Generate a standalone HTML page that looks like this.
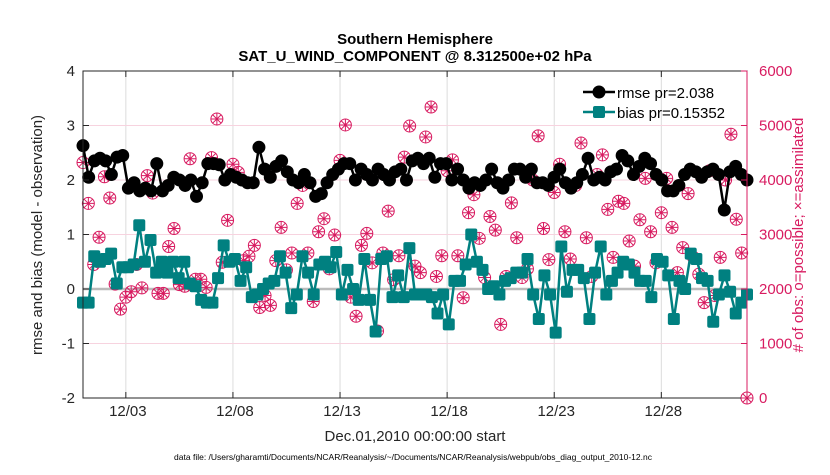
<!DOCTYPE html>
<html><head><meta charset="utf-8"><style>
body{margin:0;background:#fff;width:830px;height:470px;overflow:hidden;font-family:"Liberation Sans",sans-serif}
svg text{font-family:"Liberation Sans",sans-serif}
</style></head><body>
<svg id="chart" width="830" height="470" xmlns="http://www.w3.org/2000/svg">
<rect width="830" height="470" fill="#fff"/>
<g id="grid"></g><g id="series"></g><g id="axes"></g>
</svg>
<script>
const xTickLabels=["12/03","12/08","12/13","12/18","12/23","12/28"];
const xTickDays=[2,7,12,17,22,27];
const leftTicks=[-2,-1,0,1,2,3,4];
const rightTicks=[0,1000,2000,3000,4000,5000,6000];
const rmse=[2.63,2.05,2.35,2.4,2.35,2.1,2.42,2.45,1.85,1.95,1.8,1.85,1.8,2.3,1.8,1.9,2.05,2.0,1.9,2.0,1.7,1.95,2.3,2.3,2.28,2.0,2.1,2.05,2.0,1.95,1.95,2.6,2.2,2.05,2.25,2.35,2.15,2.0,1.95,2.1,1.95,1.7,1.75,1.95,2.1,2.2,2.3,2.3,2.0,2.2,2.1,2.0,2.2,2.1,2.0,2.15,2.2,2.0,2.35,2.4,2.3,2.4,2.05,2.3,2.3,2.0,2.2,2.0,1.85,1.95,1.9,2.0,2.2,1.95,1.85,2.0,2.2,2.2,2.05,2.2,1.95,1.95,1.9,2.05,2.2,1.95,1.85,1.95,2.1,2.4,2.0,2.05,2.0,2.15,2.2,2.45,2.35,2.1,2.25,2.4,2.3,2.1,2.0,1.8,1.8,1.9,2.1,2.2,2.15,2.05,2.15,2.2,2.1,1.45,2.15,2.25,2.1,2.0];
const bias=[-0.25,-0.25,0.6,0.5,0.55,0.65,0.1,0.4,0.4,0.45,1.17,0.5,0.9,0.3,0.5,0.3,0.5,0.2,0.5,0.1,0.05,-0.2,-0.25,-0.25,0.2,0.8,0.5,0.55,0.15,0.4,-0.15,-0.1,0.0,0.1,0.15,0.6,0.3,-0.35,-0.1,0.6,0.3,-0.1,0.45,0.5,0.4,0.68,-0.1,0.35,0.0,-0.2,0.55,-0.2,-0.78,0.55,0.6,-0.15,0.25,-0.15,0.75,-0.1,-0.1,-0.1,-0.15,-0.45,-0.1,-0.65,0.15,0.15,0.45,1.0,0.5,0.35,0.0,0.05,-0.1,0.15,0.2,0.3,0.3,0.55,-0.1,-0.55,0.25,-0.1,-0.8,0.78,-0.05,0.35,0.35,0.2,-0.55,0.3,0.78,-0.1,0.15,0.3,0.5,0.45,0.3,0.15,0.15,-0.15,0.55,0.5,0.25,-0.55,0.15,0.0,0.65,0.55,0.2,0.15,-0.6,-0.1,0.25,-0.05,-0.45,-0.25,-0.1];
const obsCount=[4320,3570,2450,2950,4060,3670,2090,1630,1850,1950,2450,2020,4080,3760,1920,1920,2780,3110,2080,2050,4390,2180,2180,2030,4410,5120,2490,3260,4290,4140,2520,2600,2800,1660,1880,1700,2520,3130,2350,2660,3570,3900,2660,1770,3050,3290,2370,2990,4360,5010,1850,1500,2800,3020,2480,1230,2660,3430,2170,2610,4420,4990,2420,2300,4790,5340,2230,2610,4170,4370,2610,1840,3400,3730,2930,2210,3330,3080,1350,2230,3580,2940,2210,2370,4000,4810,3110,2540,3770,4290,3050,2550,3900,4680,2940,2230,4100,4460,3460,2580,3610,3570,2880,2420,3270,4030,3050,2480,3400,4030,3130,2300,2760,3750,2580,2270,1750,4170,1880,2580,4000,4840,3280,2660,0];

const L=83,R=747,T=71,B=398;
const xs=d=>L+(d/31)*(R-L);
const yl=v=>B-(v+2)/6*(B-T);
const yr=c=>B-c/6000*(B-T);
const NS="http://www.w3.org/2000/svg";
function mk(tag,attrs,parent){const e=document.createElementNS(NS,tag);for(const k in attrs)e.setAttribute(k,attrs[k]);parent.appendChild(e);return e;}
const grid=document.getElementById('grid'),ser=document.getElementById('series'),ax=document.getElementById('axes');
const PINK="#d81b60";
xTickDays.forEach(d=>{const g=mk('line',{x1:xs(d),x2:xs(d),y1:T,y2:B,stroke:'#dcdcdc','stroke-width':1},grid);

});
rightTicks.slice(1,6).forEach(c=>{const g=mk('line',{x1:L,x2:R,y1:yr(c),y2:yr(c),stroke:'#f7d3df','stroke-width':1},grid);

});
const z=mk('line',{x1:L,x2:R,y1:yl(0),y2:yl(0),stroke:'#bbbbbb','stroke-width':2.5},grid);


obsCount.forEach((c,i)=>{const x=xs(i*31/(obsCount.length-1)),y=yr(c);
const g=mk('g',{},ser);


mk('circle',{cx:x,cy:y,r:6,fill:'none',stroke:PINK,'stroke-width':1},g);
let d='';for(let k=0;k<4;k++){const a=k*Math.PI/4;d+=`M${x-6*Math.cos(a)} ${y-6*Math.sin(a)}L${x+6*Math.cos(a)} ${y+6*Math.sin(a)}`;}
mk('path',{d:d,stroke:PINK,'stroke-width':1},g);});
const rp=rmse.map((v,i)=>[xs(i*31/(rmse.length-1)),yl(v)]);
const rl=mk('polyline',{points:rp.map(p=>p.join(',')).join(' '),fill:'none',stroke:'#000','stroke-width':2.5},ser);


rp.forEach(p=>{const c=mk('circle',{cx:p[0],cy:p[1],r:6.5,fill:'#000'},ser);

});
const bp=bias.map((v,i)=>[xs(i*31/(bias.length-1)),yl(v)]);
const bl=mk('polyline',{points:bp.map(p=>p.join(',')).join(' '),fill:'none',stroke:'#008080','stroke-width':2.5},ser);


bp.forEach(p=>{const c=mk('rect',{x:p[0]-6,y:p[1]-6,width:12,height:12,rx:2,fill:'#008080'},ser);

});
mk('rect',{x:L,y:T,width:R-L,height:B-T,fill:'none',stroke:'#262626','stroke-width':1},ax);
mk('line',{x1:R,x2:R,y1:T,y2:B,stroke:PINK,'stroke-width':1},ax);
leftTicks.forEach(v=>{mk('line',{x1:L,x2:L+6,y1:yl(v),y2:yl(v),stroke:'#262626'},ax);
const t=mk('text',{x:L-8,y:yl(v)+5,'text-anchor':'end','font-size':15,fill:'#262626'},ax);t.textContent=v;

});
rightTicks.forEach(c=>{mk('line',{x1:R-6,x2:R,y1:yr(c),y2:yr(c),stroke:PINK},ax);
const t=mk('text',{x:R+12,y:yr(c)+5,'font-size':15,fill:PINK},ax);t.textContent=c;

});
xTickDays.forEach((d,i)=>{mk('line',{x1:xs(d),x2:xs(d),y1:B,y2:B-6,stroke:'#262626'},ax);mk('line',{x1:xs(d),x2:xs(d),y1:T,y2:T+6,stroke:'#262626'},ax);
const t=mk('text',{x:xs(d)+2,y:416,'text-anchor':'middle','font-size':15,fill:'#262626'},ax);t.textContent=xTickLabels[i];

});
</script>
<svg style="position:absolute;left:0;top:0" width="830" height="470" xmlns="http://www.w3.org/2000/svg">
<text x="415" y="44" text-anchor="middle" font-size="15" font-weight="bold" fill="#000">Southern Hemisphere</text>
<text x="415" y="61" text-anchor="middle" font-size="15" font-weight="bold" fill="#000">SAT_U_WIND_COMPONENT @ 8.312500e+02 hPa</text>
<text x="415" y="441" text-anchor="middle" font-size="15" fill="#262626">Dec.01,2010 00:00:00 start</text>
<text x="413" y="460" text-anchor="middle" font-size="8.5" fill="#000">data file: /Users/gharamti/Documents/NCAR/Reanalysis/~/Documents/NCAR/Reanalysis/webpub/obs_diag_output_2010-12.nc</text>
<text transform="translate(42,235) rotate(-90)" text-anchor="middle" font-size="15" fill="#262626">rmse and bias (model - observation)</text>
<text transform="translate(803,235) rotate(-90)" text-anchor="middle" font-size="15" fill="#d81b60"># of obs: o=possible; ×=assimilated</text>
<g>
<line x1="583" y1="92" x2="615" y2="92" stroke="#000" stroke-width="2.5"/>
<circle cx="599" cy="92" r="6.5" fill="#000"/>
<text x="617" y="98" font-size="15" fill="#000">rmse pr=2.038</text>
<line x1="583" y1="112" x2="615" y2="112" stroke="#008080" stroke-width="2.5"/>
<rect x="593" y="106" width="12" height="12" rx="2" fill="#008080"/>
<text x="617" y="118" font-size="15" fill="#000">bias pr=0.15352</text>
</g>
</svg>
</body></html>
